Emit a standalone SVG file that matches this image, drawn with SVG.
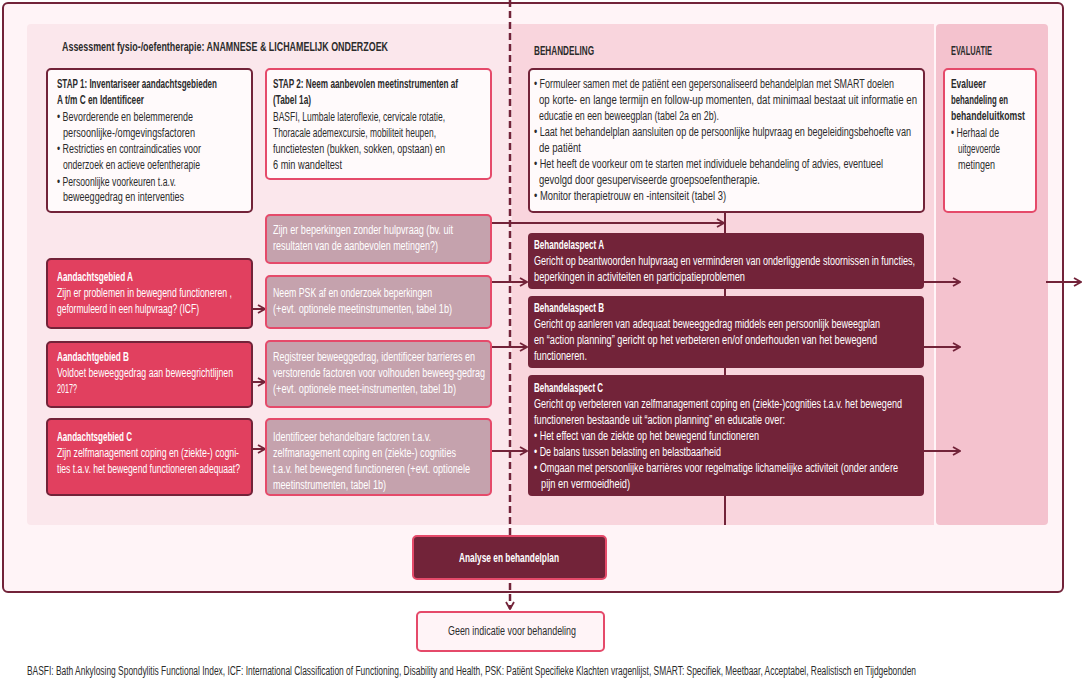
<svg xmlns="http://www.w3.org/2000/svg" width="1082" height="683" viewBox="0 0 1082 683">
<defs>
<style>
text{font-family:"Liberation Sans",Arial,sans-serif;font-size:12.5px;fill:#2b2b2b}
.b{font-weight:bold}
.w{fill:#ffffff}
.h{font-weight:bold;font-size:12px;fill:#2b2b2b}
.white{fill:#fffafb;stroke:#722339;stroke-width:2}
.whitep{fill:#fffafb;stroke:#e54a6a;stroke-width:2}
.grey{fill:#c5a2ad;stroke:#e54a6a;stroke-width:2}
.red{fill:#e1405f;stroke:#722339;stroke-width:2}
.mar{fill:#722339}
.con{stroke:#722339;stroke-width:2;fill:none}
</style>
<marker id="ah" viewBox="0 0 10 10" refX="9" refY="5" markerWidth="10" markerHeight="10" markerUnits="userSpaceOnUse" orient="auto">
<path d="M2,1 L9,5 L2,9" fill="none" stroke="#722339" stroke-width="1.8"/>
</marker>
</defs>

<g id="background">
<rect x="3" y="3" width="1060" height="589" rx="5" fill="#fff4f7" stroke="#722339" stroke-width="2"/>
<rect x="27" y="24" width="490" height="501" rx="4" fill="#fbe7ec"/>
<rect x="512" y="24" width="422" height="501" fill="#f9d5dd"/>
<rect x="936" y="24" width="112" height="501" rx="4" fill="#f4c2ce"/>
<text x="62" y="51" class="h" textLength="326" lengthAdjust="spacingAndGlyphs">Assessment fysio-/oefentherapie: ANAMNESE &amp; LICHAMELIJK ONDERZOEK</text>
<text x="534" y="55" class="h" textLength="60" lengthAdjust="spacingAndGlyphs">BEHANDELING</text>
<text x="951" y="55" class="h" textLength="41" lengthAdjust="spacingAndGlyphs">EVALUATIE</text>
</g>

<g id="connectors">
<line x1="510" y1="0" x2="510" y2="609" stroke="#722339" stroke-width="2.5" stroke-dasharray="7,4" marker-end="url(#ah)"/>
<line x1="725" y1="212" x2="725" y2="525" class="con"/>
<line x1="247" y1="309" x2="265" y2="309" class="con" marker-end="url(#ah)"/>
<line x1="247" y1="382" x2="265" y2="382" class="con" marker-end="url(#ah)"/>
<line x1="247" y1="449" x2="265" y2="449" class="con" marker-end="url(#ah)"/>
<line x1="491" y1="223" x2="724" y2="223" class="con" marker-end="url(#ah)"/>
<line x1="491" y1="282" x2="527" y2="282" class="con" marker-end="url(#ah)"/>
<line x1="491" y1="347" x2="527" y2="347" class="con" marker-end="url(#ah)"/>
<line x1="491" y1="451" x2="527" y2="451" class="con" marker-end="url(#ah)"/>
<line x1="924" y1="282" x2="960" y2="282" class="con" marker-end="url(#ah)"/>
<line x1="924" y1="347" x2="960" y2="347" class="con" marker-end="url(#ah)"/>
<line x1="924" y1="451" x2="960" y2="451" class="con" marker-end="url(#ah)"/>
<line x1="1046" y1="282" x2="1081" y2="282" class="con" marker-end="url(#ah)"/>
</g>

<g id="stap1">
<rect x="47" y="69" width="205" height="143" rx="4" class="white"/>
<text x="57" y="88" class="b" textLength="160" lengthAdjust="spacingAndGlyphs">STAP 1: Inventariseer aandachtsgebieden</text>
<text x="57" y="104" class="b" textLength="87" lengthAdjust="spacingAndGlyphs">A t/m C en Identificeer</text>
<text x="57" y="121" textLength="136" lengthAdjust="spacingAndGlyphs">• Bevorderende en belemmerende</text>
<text x="63" y="137" textLength="132" lengthAdjust="spacingAndGlyphs">persoonlijke-/omgevingsfactoren</text>
<text x="57" y="153" textLength="144" lengthAdjust="spacingAndGlyphs">• Restricties en contraindicaties voor</text>
<text x="63" y="169" textLength="137" lengthAdjust="spacingAndGlyphs">onderzoek en actieve oefentherapie</text>
<text x="57" y="186" textLength="119" lengthAdjust="spacingAndGlyphs">• Persoonlijke voorkeuren t.a.v.</text>
<text x="63" y="201" textLength="121" lengthAdjust="spacingAndGlyphs">beweeggedrag en interventies</text>
</g>

<g id="stap2">
<rect x="266" y="69" width="225" height="110" rx="4" class="whitep"/>
<text x="273" y="88" class="b" textLength="185" lengthAdjust="spacingAndGlyphs">STAP 2: Neem aanbevolen meetinstrumenten af</text>
<text x="273" y="104" class="b" textLength="38" lengthAdjust="spacingAndGlyphs">(Tabel 1a)</text>
<text x="273" y="121" textLength="172" lengthAdjust="spacingAndGlyphs">BASFI, Lumbale lateroflexie, cervicale rotatie,</text>
<text x="273" y="137" textLength="163" lengthAdjust="spacingAndGlyphs">Thoracale ademexcursie, mobiliteit heupen,</text>
<text x="273" y="153" textLength="172" lengthAdjust="spacingAndGlyphs">functietesten (bukken, sokken, opstaan) en</text>
<text x="273" y="169" textLength="69" lengthAdjust="spacingAndGlyphs">6 min wandeltest</text>
</g>

<g id="zijn">
<rect x="266" y="215" width="225" height="48" rx="4" class="grey"/>
<text x="273" y="234" class="w" textLength="180" lengthAdjust="spacingAndGlyphs">Zijn er beperkingen zonder hulpvraag (bv. uit</text>
<text x="273" y="250" class="w" textLength="165" lengthAdjust="spacingAndGlyphs">resultaten van de aanbevolen metingen?)</text>
</g>

<g id="aandachtsgebied-a">
<rect x="47" y="259" width="205" height="69" rx="4" class="red"/>
<text x="57" y="281" class="w b" textLength="76" lengthAdjust="spacingAndGlyphs">Aandachtsgebied A</text>
<text x="57" y="297" class="w" textLength="175" lengthAdjust="spacingAndGlyphs">Zijn er problemen in bewegend functioneren ,</text>
<text x="57" y="313" class="w" textLength="142" lengthAdjust="spacingAndGlyphs">geformuleerd in een hulpvraag? (ICF)</text>
</g>

<g id="neem-psk">
<rect x="266" y="276" width="225" height="52" rx="4" class="grey"/>
<text x="273" y="297" class="w" textLength="159" lengthAdjust="spacingAndGlyphs">Neem PSK af en onderzoek beperkingen</text>
<text x="273" y="313" class="w" textLength="179" lengthAdjust="spacingAndGlyphs">(+evt. optionele meetinstrumenten, tabel 1b)</text>
</g>

<g id="aandachtsgebied-b">
<rect x="47" y="342" width="205" height="65" rx="4" class="red"/>
<text x="57" y="361" class="w b" textLength="72" lengthAdjust="spacingAndGlyphs">Aandachtgebied B</text>
<text x="57" y="377" class="w" textLength="176" lengthAdjust="spacingAndGlyphs">Voldoet beweeggedrag aan beweegrichtlijnen</text>
<text x="57" y="393" class="w" textLength="20" lengthAdjust="spacingAndGlyphs">2017?</text>
</g>

<g id="registreer">
<rect x="266" y="341" width="225" height="66" rx="4" class="grey"/>
<text x="273" y="361" class="w" textLength="202" lengthAdjust="spacingAndGlyphs">Registreer beweeggedrag, identificeer barrieres en</text>
<text x="273" y="377" class="w" textLength="212" lengthAdjust="spacingAndGlyphs">verstorende factoren voor volhouden beweeg-gedrag</text>
<text x="273" y="393" class="w" textLength="183" lengthAdjust="spacingAndGlyphs">(+evt. optionele meet-instrumenten, tabel 1b)</text>
</g>

<g id="aandachtsgebied-c">
<rect x="47" y="419" width="205" height="76" rx="4" class="red"/>
<text x="57" y="441" class="w b" textLength="75" lengthAdjust="spacingAndGlyphs">Aandachtsgebied C</text>
<text x="57" y="457" class="w" textLength="182" lengthAdjust="spacingAndGlyphs">Zijn zelfmanagement coping en (ziekte-) cogni-</text>
<text x="57" y="473" class="w" textLength="183" lengthAdjust="spacingAndGlyphs">ties t.a.v. het bewegend functioneren adequaat?</text>
</g>

<g id="identificeer">
<rect x="266" y="419" width="225" height="76" rx="4" class="grey"/>
<text x="273" y="441" class="w" textLength="158" lengthAdjust="spacingAndGlyphs">Identificeer behandelbare factoren t.a.v.</text>
<text x="273" y="457" class="w" textLength="183" lengthAdjust="spacingAndGlyphs">zelfmanagement coping en (ziekte-) cognities</text>
<text x="273" y="473" class="w" textLength="197" lengthAdjust="spacingAndGlyphs">t.a.v. het bewegend functioneren (+evt. optionele</text>
<text x="273" y="489" class="w" textLength="113" lengthAdjust="spacingAndGlyphs">meetinstrumenten, tabel 1b)</text>
</g>

<g id="behandelplan">
<rect x="529" y="69" width="395" height="143" rx="4" class="white"/>
<text x="534" y="88" textLength="360" lengthAdjust="spacingAndGlyphs">• Formuleer samen met de patiënt een gepersonaliseerd behandelplan met SMART doelen</text>
<text x="539" y="104" textLength="378" lengthAdjust="spacingAndGlyphs">op korte- en lange termijn en follow-up momenten, dat minimaal bestaat uit informatie en</text>
<text x="539" y="120" textLength="180" lengthAdjust="spacingAndGlyphs">educatie en een beweegplan (tabel 2a en 2b).</text>
<text x="534" y="136" textLength="377" lengthAdjust="spacingAndGlyphs">• Laat het behandelplan aansluiten op de persoonlijke hulpvraag en begeleidingsbehoefte van</text>
<text x="539" y="152" textLength="42" lengthAdjust="spacingAndGlyphs">de patiënt</text>
<text x="534" y="168" textLength="349" lengthAdjust="spacingAndGlyphs">• Het heeft de voorkeur om te starten met individuele behandeling of advies, eventueel</text>
<text x="539" y="184" textLength="221" lengthAdjust="spacingAndGlyphs">gevolgd door gesuperviseerde groepsoefentherapie.</text>
<text x="534" y="200" textLength="192" lengthAdjust="spacingAndGlyphs">• Monitor therapietrouw en -intensiteit (tabel 3)</text>
</g>

<g id="evaluatie">
<rect x="944" y="69" width="92" height="143" rx="4" class="whitep"/>
<text x="951" y="88" class="b" textLength="35" lengthAdjust="spacingAndGlyphs">Evalueer</text>
<text x="951" y="104" class="b" textLength="57" lengthAdjust="spacingAndGlyphs">behandeling en</text>
<text x="951" y="120" class="b" textLength="74" lengthAdjust="spacingAndGlyphs">behandeluitkomst</text>
<text x="951" y="137" textLength="48" lengthAdjust="spacingAndGlyphs">• Herhaal de</text>
<text x="958" y="153" textLength="42" lengthAdjust="spacingAndGlyphs">uitgevoerde</text>
<text x="958" y="169" textLength="37" lengthAdjust="spacingAndGlyphs">metingen</text>
</g>

<g id="behandelaspect-a">
<rect x="528" y="233" width="396" height="56" rx="4" class="mar"/>
<text x="534" y="249" class="w b" textLength="70" lengthAdjust="spacingAndGlyphs">Behandelaspect A</text>
<text x="534" y="265" class="w" textLength="381" lengthAdjust="spacingAndGlyphs">Gericht op beantwoorden hulpvraag en verminderen van onderliggende stoornissen in functies,</text>
<text x="534" y="281" class="w" textLength="211" lengthAdjust="spacingAndGlyphs">beperkingen in activiteiten en participatieproblemen</text>
</g>

<g id="behandelaspect-b">
<rect x="528" y="296" width="396" height="72" rx="4" class="mar"/>
<text x="534" y="312" class="w b" textLength="70" lengthAdjust="spacingAndGlyphs">Behandelaspect B</text>
<text x="534" y="328" class="w" textLength="346" lengthAdjust="spacingAndGlyphs">Gericht op aanleren van adequaat beweeggedrag middels een persoonlijk beweegplan</text>
<text x="534" y="344" class="w" textLength="343" lengthAdjust="spacingAndGlyphs">en “action planning” gericht op het verbeteren en/of onderhouden van het bewegend</text>
<text x="534" y="360" class="w" textLength="53" lengthAdjust="spacingAndGlyphs">functioneren.</text>
</g>

<g id="behandelaspect-c">
<rect x="528" y="375" width="396" height="121" rx="4" class="mar"/>
<text x="534" y="392" class="w b" textLength="69" lengthAdjust="spacingAndGlyphs">Behandelaspect C</text>
<text x="534" y="408" class="w" textLength="368" lengthAdjust="spacingAndGlyphs">Gericht op verbeteren van zelfmanagement coping en (ziekte-)cognities t.a.v. het bewegend</text>
<text x="534" y="424" class="w" textLength="251" lengthAdjust="spacingAndGlyphs">functioneren bestaande uit “action planning” en educatie over:</text>
<text x="534" y="440" class="w" textLength="225" lengthAdjust="spacingAndGlyphs">• Het effect van de ziekte op het bewegend functioneren</text>
<text x="534" y="456" class="w" textLength="187" lengthAdjust="spacingAndGlyphs">• De balans tussen belasting en belastbaarheid</text>
<text x="534" y="472" class="w" textLength="364" lengthAdjust="spacingAndGlyphs">• Omgaan met persoonlijke barrières voor regelmatige lichamelijke activiteit (onder andere</text>
<text x="541" y="488" class="w" textLength="89" lengthAdjust="spacingAndGlyphs">pijn en vermoeidheid)</text>
</g>

<g id="analyse">
<rect x="413" y="536" width="193" height="43" rx="4" fill="#722339" stroke="#e54a6a" stroke-width="2"/>
<text x="459" y="562" class="w b" font-size="11.5" textLength="100" lengthAdjust="spacingAndGlyphs">Analyse en  behandelplan</text>
</g>

<g id="geen-indicatie">
<rect x="417" y="612" width="187" height="39" rx="4" fill="#fff4f7" stroke="#e54a6a" stroke-width="2"/>
<text x="448" y="635" font-size="11.5" textLength="128" lengthAdjust="spacingAndGlyphs">Geen indicatie voor behandeling</text>
</g>

<g id="footnote">
<text x="27" y="675" font-size="11" textLength="889" lengthAdjust="spacingAndGlyphs">BASFI: Bath Ankylosing Spondylitis Functional Index, ICF: International Classification of Functioning, Disability and Health, PSK: Patiënt Specifieke Klachten vragenlijst, SMART: Specifiek, Meetbaar, Acceptabel, Realistisch en Tijdgebonden</text>
</g>
</svg>
